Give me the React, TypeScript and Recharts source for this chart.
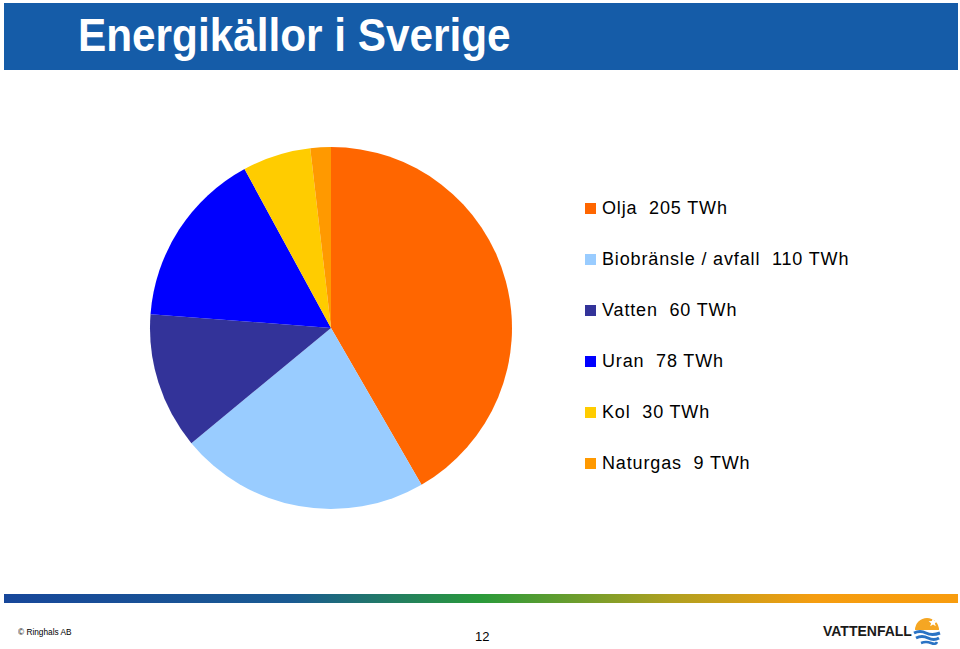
import { PieChart, Pie, Cell, Legend } from "recharts";

const sources = ["Olja", "Biobränsle / avfall", "Vatten", "Uran", "Kol", "Naturgas"];
const twh = [205, 110, 60, 78, 30, 9];
const colors = ["#FF6600", "#99CCFF", "#333399", "#0000FF", "#FFCC00", "#FF9900"];

const data = sources.map((name, i) => ({ name, value: twh[i] }));

function EnergyLegend() {
  return (
    <div style={{ fontFamily: "'Liberation Sans', Arial, sans-serif", fontSize: 18, letterSpacing: 0.85, color: "#000" }}>
      {data.map((d, i) => (
        <div key={d.name} style={{ display: "flex", alignItems: "center", height: 51 }}>
          <span style={{ width: 11, height: 11, background: colors[i], marginRight: 6, flexShrink: 0 }} />
          <span style={{ whiteSpace: "pre" }}>{`${d.name}  ${d.value} TWh`}</span>
        </div>
      ))}
    </div>
  );
}

function Logo() {
  return (
    <svg width={30} height={34} viewBox="0 0 30 34">
      <path d="M3 16 A12 12 0 0 1 27 16 Z" fill="#F5A623" />
      <path d="M21 4 l1.2 3 3.2 0.2 -2.5 2 0.9 3.1 -2.8 -1.8 -2.8 1.8 0.9 -3.1 -2.5 -2 3.2 -0.2 Z" fill="#fff" />
      <path d="M2 19 Q8 16 14 19 T28 19" stroke="#2a73c4" strokeWidth={3} fill="none" />
      <path d="M4 24 Q10 21 16 24 T27 24" stroke="#2a73c4" strokeWidth={3} fill="none" />
      <path d="M9 29 Q14 27 19 29 T25 28" stroke="#2a73c4" strokeWidth={2.5} fill="none" />
    </svg>
  );
}

export default function App() {
  return (
    <div style={{ position: "absolute", left: 0, top: 0, width: 960, height: 649, background: "#fff", overflow: "hidden" }}>
      <div
        style={{
          position: "absolute",
          left: 4,
          top: 3,
          width: 954,
          height: 67,
          background: "#155CA8",
        }}
      />
      <div
        style={{
          position: "absolute",
          left: 78,
          top: 8,
          color: "#fff",
          fontFamily: "'Liberation Sans', Arial, sans-serif",
          fontWeight: "bold",
          fontSize: 47,
          lineHeight: "54px",
          whiteSpace: "nowrap",
          transform: "scaleX(0.9)",
          transformOrigin: "left center",
        }}
      >
        Energikällor i Sverige
      </div>

      <PieChart
        width={960}
        height={580}
        margin={{ top: 0, right: 0, bottom: 0, left: 0 }}
        style={{ position: "absolute", left: 0, top: 0 }}
      >
        <Pie
          data={data}
          dataKey="value"
          nameKey="name"
          cx={331}
          cy={328}
          outerRadius={181}
          startAngle={90}
          endAngle={-270}
          stroke="none"
          isAnimationActive={false}
        >
          {data.map((d, i) => (
            <Cell key={d.name} fill={colors[i]} />
          ))}
        </Pie>
        <Legend
          content={<EnergyLegend />}
          wrapperStyle={{ position: "absolute", left: 585, top: 183, width: 360 }}
        />
      </PieChart>

      <div
        style={{
          position: "absolute",
          left: 4,
          top: 594,
          width: 954,
          height: 9,
          background: "linear-gradient(to right, #17479a 0%, #1a5a92 30%, #2a9a3a 50%, #b0a020 70%, #f59d10 85%, #f89c0e 100%)",
        }}
      />
      <div
        style={{
          position: "absolute",
          left: 18,
          top: 627,
          fontFamily: "'Liberation Sans', Arial, sans-serif",
          fontSize: 9,
          color: "#000",
          whiteSpace: "nowrap",
          transform: "scaleX(0.92)",
          transformOrigin: "left center",
        }}
      >
        © Ringhals AB
      </div>
      <div
        style={{
          position: "absolute",
          left: 475,
          top: 629,
          fontFamily: "'Liberation Sans', Arial, sans-serif",
          fontSize: 13,
          color: "#000",
        }}
      >
        12
      </div>
      <div
        style={{
          position: "absolute",
          left: 823,
          top: 623,
          fontFamily: "'Liberation Sans', Arial, sans-serif",
          fontWeight: "bold",
          fontSize: 14,
          color: "#1a1a1a",
        }}
      >
        VATTENFALL
      </div>
      <div style={{ position: "absolute", left: 912, top: 614 }}>
        <Logo />
      </div>
    </div>
  );
}
